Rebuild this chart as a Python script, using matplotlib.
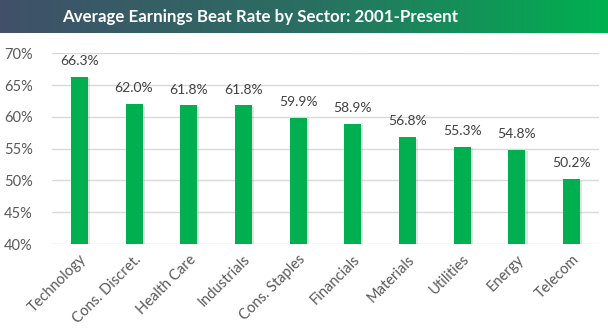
import numpy as np
import matplotlib
matplotlib.use('Agg')
import matplotlib.pyplot as plt
import matplotlib.patheffects as pe
from matplotlib.colors import LinearSegmentedColormap

sectores = ['Technology', 'Cons. Discret.', 'Health Care', 'Industrials', 'Cons. Staples',
            'Financials', 'Materials', 'Utilities', 'Energy', 'Telecom']
tasa = [66.3, 62.0, 61.8, 61.8, 59.9, 58.9, 56.8, 55.3, 54.8, 50.2]
ticks_y = [40, 45, 50, 55, 60, 65, 70]
titulo = 'Average Earnings Beat Rate by Sector: 2001-Present'

plt.rcParams['font.family'] = ['Lato', 'DejaVu Sans']

fig = plt.figure(figsize=(6.08, 3.32), dpi=100)

# banda del titulo con degradado
ban = fig.add_axes([0, 1 - 33 / 332, 1, 33 / 332])
grad = np.linspace(0, 1, 256).reshape(1, -1)
cmap = LinearSegmentedColormap.from_list('banda', ['#405069', '#2A6E62', '#00B050'])
ban.imshow(grad, aspect='auto', cmap=cmap, extent=[0, 1, 0, 1])
ban.set_axis_off()
ban.text(260 / 608, 0.48, titulo, color='white', fontsize=12.2, fontweight='bold',
         ha='center', va='center', transform=ban.transAxes)

ax = fig.add_axes([52 / 608, 1 - 244 / 332, 547 / 608, (244 - 53.3) / 332])
x = np.arange(len(sectores))
barras = ax.bar(x, tasa, width=0.31, color='#00B050', zorder=3)
for b in barras:
    b.set_path_effects([pe.SimplePatchShadow(offset=(1.5, -1), shadow_rgbFace='#909090', alpha=0.25),
                        pe.Normal()])

for xi, v in zip(x, tasa):
    ax.annotate(f'{v:.1f}%', (xi, v), xytext=(0, 7), textcoords='offset points',
                ha='center', va='bottom', fontsize=10, color='#404040')

ax.set_ylim(40, 70)
ax.set_xlim(-0.5, len(sectores) - 0.5)
ax.set_yticks(ticks_y)
ax.set_yticklabels([f'{t}%' for t in ticks_y])
ax.set_xticks(x)
ax.set_xticklabels(sectores, rotation=45, ha='right', rotation_mode='anchor')
ax.tick_params(axis='both', length=0, labelsize=10.5, colors='#595959')
ax.tick_params(axis='y', pad=14)
ax.tick_params(axis='x', pad=6)
ax.grid(axis='y', color='#D9D9D9', linewidth=1, zorder=0)
for s in ax.spines.values():
    s.set_visible(False)

fig.savefig('out.png', dpi=100)
